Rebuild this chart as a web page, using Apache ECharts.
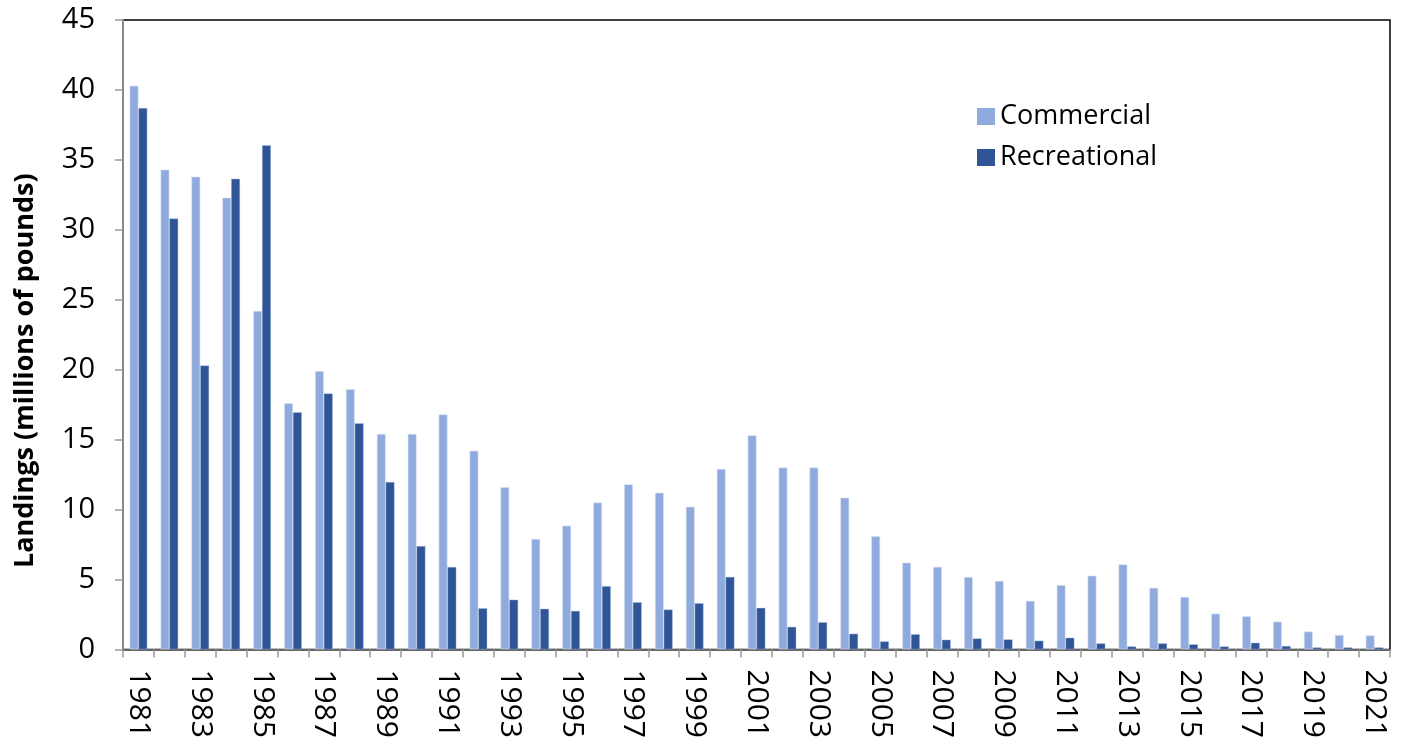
<!DOCTYPE html>
<html>
<head>
<meta charset="utf-8">
<script src="https://cdn.jsdelivr.net/npm/echarts@6/dist/echarts.min.js"></script>
<style>
html,body{margin:0;padding:0;background:#fff;}
#chart{width:1403px;height:741px;}
</style>
</head>
<body>
<div id="chart"></div>
<script>
const years = ['1981','1982','1983','1984','1985','1986','1987','1988','1989','1990',
  '1991','1992','1993','1994','1995','1996','1997','1998','1999','2000',
  '2001','2002','2003','2004','2005','2006','2007','2008','2009','2010',
  '2011','2012','2013','2014','2015','2016','2017','2018','2019','2020','2021'];
const commercial = [40.3,34.3,33.8,32.3,24.2,17.6,19.9,18.6,15.4,15.4,
  16.8,14.2,11.6,7.9,8.85,10.5,11.8,11.2,10.2,12.9,
  15.3,13.0,13.0,10.85,8.1,6.2,5.9,5.18,4.9,3.47,
  4.6,5.27,6.08,4.4,3.75,2.56,2.37,1.99,1.28,1.03,1.0];
const recreational = [38.7,30.8,20.3,33.65,36.05,16.95,18.3,16.17,11.97,7.38,
  5.89,2.94,3.55,2.9,2.75,4.52,3.37,2.85,3.3,5.18,
  2.97,1.61,1.94,1.12,0.57,1.08,0.69,0.78,0.71,0.62,
  0.83,0.43,0.21,0.43,0.36,0.21,0.47,0.24,0.14,0.14,0.14];
const yTicks = {min:0, max:45, interval:5};
const seriesNames = ['Commercial','Recreational'];
const yAxisTitle = 'Landings (millions of pounds)';

const chart = echarts.init(document.getElementById('chart'), null, {renderer:'canvas'});
const font = "'Open Sans', 'DejaVu Sans', sans-serif";
chart.setOption({
  animation:false,
  backgroundColor:'#fff',
  textStyle:{fontFamily:font},
  grid:{left:123, right:13, top:20, bottom:89, show:true, borderColor:'#000', borderWidth:1.5, backgroundColor:'transparent'},
  legend:{
    orient:'vertical', left:972, top:98,
    itemWidth:18, itemHeight:17, itemGap:14,
    icon:'rect',
    itemStyle:{borderWidth:0},
    textStyle:{fontSize:27, color:'#000', fontFamily:font, padding:[0,0,0,0]},
    data:seriesNames
  },
  xAxis:{
    type:'category', data:years, boundaryGap:true,
    axisLine:{lineStyle:{color:'#666', width:2}},
    axisTick:{show:true, interval:0, length:8, lineStyle:{color:'#999', width:1.5}},
    axisLabel:{interval:1, rotate:-90, margin:20, fontSize:30, color:'#000', fontFamily:font}
  },
  yAxis:{
    type:'value', min:yTicks.min, max:yTicks.max, interval:yTicks.interval,
    name:yAxisTitle, nameLocation:'middle', nameGap:84, nameRotate:90,
    nameTextStyle:{fontSize:27, fontWeight:'bold', color:'#000', fontFamily:font, padding:[0,72,0,0]},
    splitLine:{show:false},
    axisLine:{show:true, lineStyle:{color:'#888', width:2}},
    axisTick:{show:true, length:8, lineStyle:{color:'#999', width:1.5}},
    axisLabel:{margin:28, fontSize:29, color:'#000', fontFamily:font}
  },
  series:[
    {name:seriesNames[0], type:'bar', data:commercial, barWidth:'28.5%', barGap:'0%',
     itemStyle:{color:'#8FAADC', borderColor:'#DAE3F3', borderWidth:0.6}},
    {name:seriesNames[1], type:'bar', data:recreational, barWidth:'28.5%', barGap:'0%',
     itemStyle:{color:'#2F5597', borderColor:'#B4C7E7', borderWidth:0.4}}
  ]
});
</script>
</body>
</html>
